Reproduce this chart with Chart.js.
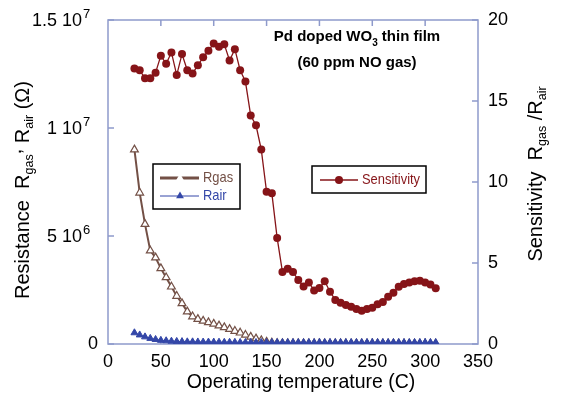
<!DOCTYPE html>
<html><head><meta charset="utf-8">
<script src="https://cdn.jsdelivr.net/npm/chart.js@4.4.1/dist/chart.umd.min.js"></script>
<style>html,body{margin:0;padding:0;background:#fff}#w{width:564px;height:405px}</style>
</head><body><div id="w"><canvas id="c" width="564" height="405"></canvas></div>
<script>
const temperatures = [25,30,35,40,45,50,55,60,65,70,75,80,85,90,95,100,105,110,115,120,125,130,135,140,145,150,155,160,165,170,175,180,185,190,195,200,205,210,215,220,225,230,235,240,245,250,255,260,265,270,275,280,285,290,295,300,305,310];
const rgas = [9.0e6,7.0e6,5.55e6,4.32e6,4.0e6,3.5e6,3.08e6,2.65e6,2.22e6,1.88e6,1.5e6,1.27e6,1.15e6,1.07e6,1.0e6,0.93e6,0.85e6,0.77e6,0.69e6,0.6e6,0.52e6,0.42e6,0.33e6,0.25e6,0.17e6,0.1e6,0.06e6,0.035e6,0.03e6,0.028e6,0.027e6,0.026e6,0.025e6,0.024e6,0.023e6,0.022e6,0.022e6,0.021e6,0.02e6,0.02e6,0.02e6,0.019e6,0.019e6,0.018e6,0.018e6,0.018e6,0.017e6,0.017e6,0.017e6,0.016e6,0.016e6,0.016e6,0.015e6,0.015e6,0.015e6,0.015e6,0.014e6,0.014e6];
const rair = [0.52e6,0.42e6,0.33e6,0.26e6,0.21e6,0.17e6,0.15e6,0.13e6,0.12e6,0.11e6,0.1e6,0.1e6,0.095e6,0.09e6,0.09e6,0.085e6,0.085e6,0.08e6,0.08e6,0.08e6,0.075e6,0.075e6,0.075e6,0.07e6,0.07e6,0.07e6,0.07e6,0.07e6,0.07e6,0.07e6,0.07e6,0.07e6,0.07e6,0.07e6,0.07e6,0.07e6,0.07e6,0.07e6,0.07e6,0.07e6,0.07e6,0.07e6,0.07e6,0.07e6,0.07e6,0.07e6,0.07e6,0.07e6,0.07e6,0.07e6,0.07e6,0.07e6,0.07e6,0.07e6,0.07e6,0.07e6,0.07e6,0.07e6];
const sensitivity = [17.0,16.9,16.4,16.4,16.75,17.8,17.3,18.0,16.6,17.9,16.9,16.7,17.2,17.7,18.1,18.55,18.35,18.5,17.5,18.2,16.9,16.2,14.1,13.5,12.0,9.4,9.3,6.55,4.45,4.65,4.45,3.95,3.55,3.8,3.3,3.45,3.87,3.23,2.72,2.55,2.4,2.3,2.16,2.06,2.16,2.24,2.45,2.6,2.92,3.17,3.54,3.7,3.8,3.87,3.9,3.8,3.68,3.44];
const xTicks = [0,50,100,150,200,250,300,350];
const leftTicks = [{v:0,base:'0',exp:''},{v:5e6,base:'5 10',exp:'6'},{v:1e7,base:'1 10',exp:'7'},{v:1.5e7,base:'1.5 10',exp:'7'}];
const rightTicks = [0,5,10,15,20];

const FONT = '"Liberation Sans", Arial, sans-serif';
const C_RGAS = '#735046', C_RAIR = '#3447a8', C_SENS = '#861418', C_FRAME = '#8e9acb';

function pts(ys){ return temperatures.map((t,i)=>({x:t,y:ys[i]})); }

function richWidth(ctx, parts){
  let w=0; for(const p of parts){ ctx.font=(p.b?'bold ':'')+p.s+'px '+FONT; w+=ctx.measureText(p.t).width; } return w;
}
function drawRich(ctx, parts, x, y, align, color){
  const w = richWidth(ctx, parts);
  let cx = align==='center' ? x-w/2 : (align==='right' ? x-w : x);
  ctx.textAlign='left'; ctx.textBaseline='middle'; ctx.fillStyle=color||'#000';
  for(const p of parts){ ctx.font=(p.b?'bold ':'')+p.s+'px '+FONT; ctx.fillText(p.t, cx, y+(p.dy||0)); cx+=ctx.measureText(p.t).width; }
}
function condensed(ctx, text, x, y, size, color, k){
  ctx.save(); ctx.translate(x,y); ctx.scale(k,1);
  ctx.font=size+'px '+FONT; ctx.fillStyle=color; ctx.textAlign='left'; ctx.textBaseline='middle';
  ctx.fillText(text,0,0); ctx.restore();
}

const deco = {
  id:'deco',
  beforeDatasetsDraw(chart){
    const {ctx, chartArea:a, scales} = chart;
    ctx.save();
    ctx.strokeStyle=C_FRAME; ctx.lineWidth=1.5;
    ctx.strokeRect(a.left, a.top, a.right-a.left, a.bottom-a.top);
    ctx.beginPath();
    for(const t of xTicks){ if(t===0||t===350) continue; const px=scales.x.getPixelForValue(t);
      ctx.moveTo(px,a.bottom); ctx.lineTo(px,a.bottom-6); ctx.moveTo(px,a.top); ctx.lineTo(px,a.top+6); }
    for(const t of leftTicks){ const py=scales.y.getPixelForValue(t.v); ctx.moveTo(a.left,py); ctx.lineTo(a.left+6,py); }
    for(const t of rightTicks){ const py=scales.y1.getPixelForValue(t); ctx.moveTo(a.right,py); ctx.lineTo(a.right-6,py); }
    ctx.stroke();
    ctx.restore();
  },
  afterDatasetsDraw(chart){
    const {ctx, chartArea:a, scales} = chart;
    ctx.save();
    ctx.fillStyle='#000'; ctx.font='18px '+FONT; ctx.textAlign='center'; ctx.textBaseline='middle';
    for(const t of xTicks){ ctx.fillText(String(t), scales.x.getPixelForValue(t), a.bottom+18); }
    ctx.textAlign='left';
    for(const t of rightTicks){ ctx.fillText(String(t), a.right+10, scales.y1.getPixelForValue(t)); }
    for(const t of leftTicks){
      const py=scales.y.getPixelForValue(t.v);
      if(!t.exp){ ctx.font='18px '+FONT; ctx.textAlign='right'; ctx.fillText(t.base, a.left-10, py); }
      else {
        ctx.font='18px '+FONT; ctx.textAlign='right'; ctx.fillText(t.base, a.left-26, py+1);
        ctx.font='13px '+FONT; ctx.textAlign='left'; ctx.fillText(t.exp, a.left-25, py-6);
      }
    }
    ctx.font='19.5px '+FONT; ctx.textAlign='center';
    ctx.fillText('Operating temperature (C)', 301, a.bottom+39);
    ctx.save(); ctx.translate(23, 190); ctx.rotate(-Math.PI/2);
    drawRich(ctx,[{t:'Resistance  R',s:20},{t:'gas',s:12.5,dy:7},{t:',',s:20,dy:-8},{t:' R',s:20},{t:'air',s:12.5,dy:7},{t:' (Ω)',s:20}],0,0,'center');
    ctx.restore();
    ctx.save(); ctx.translate(536, 174); ctx.rotate(-Math.PI/2);
    drawRich(ctx,[{t:'Sensitivity  R',s:20},{t:'gas',s:12.5,dy:7},{t:' /R',s:20},{t:'air',s:12.5,dy:7}],0,0,'center');
    ctx.restore();
    drawRich(ctx,[{t:'Pd doped WO',s:15,b:1},{t:'3',s:10,b:1,dy:6},{t:' thin film',s:15,b:1}],357,37,'center');
    drawRich(ctx,[{t:'(60 ppm NO gas)',s:15,b:1}],357,63,'center');
    // legend 1
    ctx.lineWidth=1.5; ctx.strokeStyle='#000'; ctx.fillStyle='#fff';
    ctx.fillRect(153,164,87,45); ctx.strokeRect(153,164,87,45);
    ctx.beginPath(); ctx.strokeStyle=C_RGAS; ctx.lineWidth=3; ctx.moveTo(160,178); ctx.lineTo(199,178); ctx.stroke();
    ctx.fillStyle='#fff'; ctx.strokeStyle=C_RGAS; ctx.lineWidth=1.2;
    Chart.helpers.drawPoint(ctx,{pointStyle:'triangle',radius:4.5,rotation:0},180,178);
    ctx.beginPath(); ctx.strokeStyle=C_RAIR; ctx.lineWidth=1; ctx.moveTo(160,196); ctx.lineTo(199,196); ctx.stroke();
    ctx.fillStyle=C_RAIR; ctx.strokeStyle=C_RAIR;
    Chart.helpers.drawPoint(ctx,{pointStyle:'triangle',radius:4.5,rotation:0},180,196);
    condensed(ctx,'Rgas',203,178,15,C_RGAS,0.86);
    condensed(ctx,'Rair',203,196,15,C_RAIR,0.86);
    // legend 2
    ctx.lineWidth=1.5; ctx.strokeStyle='#000'; ctx.fillStyle='#fff';
    ctx.fillRect(312,166,114,27); ctx.strokeRect(312,166,114,27);
    ctx.beginPath(); ctx.strokeStyle=C_SENS; ctx.lineWidth=1.5; ctx.moveTo(320,180); ctx.lineTo(358,180); ctx.stroke();
    ctx.fillStyle=C_SENS;
    Chart.helpers.drawPoint(ctx,{pointStyle:'circle',radius:4,rotation:0},339,180);
    condensed(ctx,'Sensitivity',362,180,15,C_SENS,0.86);
    ctx.restore();
  }
};

new Chart(document.getElementById('c'), {
  type:'scatter',
  data:{ datasets:[
    {label:'Rair', data:pts(rair), yAxisID:'y', showLine:true, borderColor:C_RAIR, borderWidth:1, backgroundColor:C_RAIR,
      pointStyle:'triangle', pointRadius:4, pointBorderWidth:1, pointBorderColor:C_RAIR, pointBackgroundColor:C_RAIR, order:0},
    {label:'Rgas', data:pts(rgas), yAxisID:'y', showLine:true, borderColor:C_RGAS, borderWidth:2, backgroundColor:'#fff',
      pointStyle:'triangle', pointRadius:4.5, pointBorderWidth:1.2, pointBorderColor:C_RGAS, pointBackgroundColor:'#fff', order:1},
    {label:'Sensitivity', data:pts(sensitivity), yAxisID:'y1', showLine:true, borderColor:C_SENS, borderWidth:1.3, backgroundColor:C_SENS,
      pointStyle:'circle', pointRadius:4, pointBorderWidth:0, pointBackgroundColor:C_SENS, order:2}
  ]},
  options:{
    responsive:false, animation:false, devicePixelRatio:1,
    layout:{padding:{top:20,left:0,right:0,bottom:0}},
    plugins:{legend:{display:false}, tooltip:{enabled:false}},
    scales:{
      x:{type:'linear', min:0, max:350, position:'bottom', ticks:{display:false}, grid:{display:false}, border:{display:false}, afterFit(s){s.height=61;}},
      y:{type:'linear', min:0, max:1.5e7, position:'left', ticks:{display:false}, grid:{display:false}, border:{display:false}, afterFit(s){s.width=108;}},
      y1:{type:'linear', min:0, max:20, position:'right', ticks:{display:false}, grid:{display:false}, border:{display:false}, afterFit(s){s.width=86;}}
    }
  },
  plugins:[deco]
});
</script></body></html>
